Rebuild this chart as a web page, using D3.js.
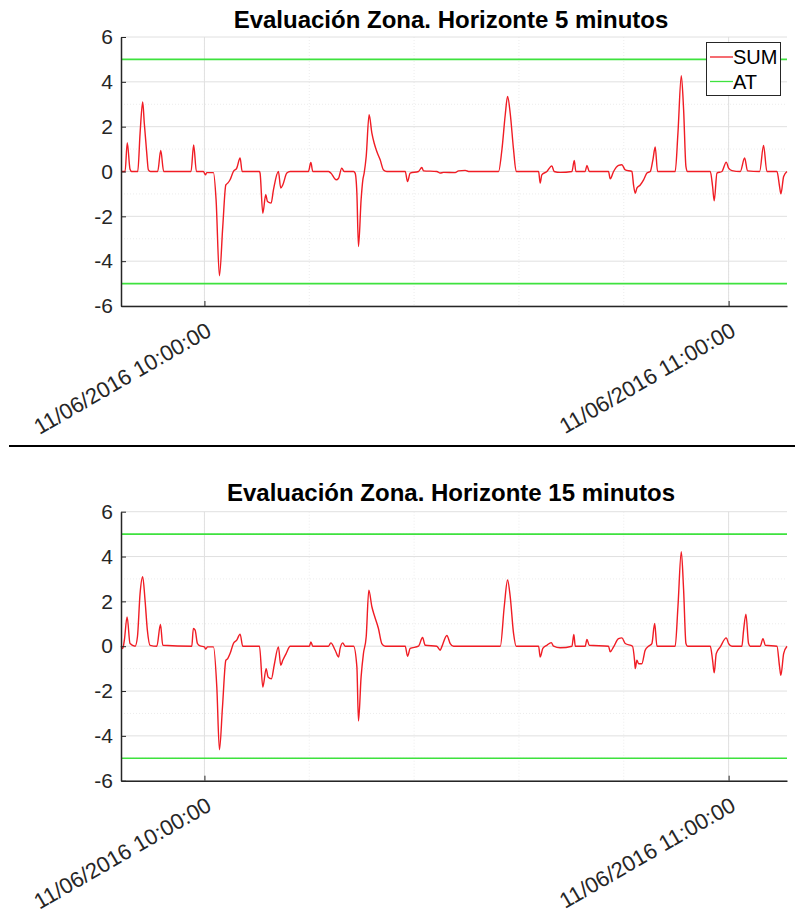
<!DOCTYPE html>
<html>
<head>
<meta charset="utf-8">
<script src="https://cdn.jsdelivr.net/npm/d3@7"></script>
<style>
  html, body { margin: 0; padding: 0; background: #fff; }
  svg { display: block; }
  text { font-family: "Liberation Sans", Arial, sans-serif; }
</style>
</head>
<body>
<svg id="chart" width="795" height="917"></svg>
<script>
// ---------- DATA ----------
const baseTime = new Date(2016, 5, 11, 10, 0, 0); // 11/06/2016 10:00:00
const domainSecs = [-573, 4001];                   // seconds relative to baseTime
const yTicks = [-6, -4, -2, 0, 2, 4, 6];
const atLevels = [5, -5];
const titles = ["Evaluación Zona. Horizonte 5 minutos", "Evaluación Zona. Horizonte 15 minutos"];
const legendLabels = ["SUM", "AT"];

// Horizon 5 minutes: seconds after 10:00:00 and SUM value
const secs5 = [-573,-545,-530,-511,-500,-458,-442,-424,-413,-396,-385,-370,-321,-300,-280,-92,-74,-55,-34,-7,7,16,62,80,103,126,147,160,176,199,222,245,259,378,382,401,421,433,458,474,508,524,538,566,589,714,731,744,852,868,905,921,943,960,1024,1035,1047,1058,1076,1088,1097,1111,1131,1150,1166,1184,1207,1230,1253,1379,1395,1413,1470,1493,1505,1596,1619,1642,1722,1745,1791,1814,2020,2043,2066,2082,2100,2123,2141,2295,2306,2317,2352,2386,2402,2443,2524,2540,2551,2615,2627,2643,2775,2787,2810,2844,2867,2890,2936,2947,2959,2970,2993,3016,3039,3062,3080,3096,3112,3233,3252,3275,3291,3307,3318,3474,3490,3501,3520,3554,3584,3600,3623,3680,3710,3730,3813,3840,3863,3932,3950,3959,3978,4001];
const sum5 = [0,0,1.29,0.1,0,0,1.7,3.1,2.15,0.81,0.07,0,0,0.94,0,0,1.18,0,0,0,-0.15,-0.05,-0.05,-1.26,-4.65,-2.45,-0.6,-0.52,-0.37,0,0.15,0.6,0,0,-0.07,-1.86,-1.04,-1.34,-1.41,-0.82,0,-0.74,-0.6,-0.07,0,0,0.4,0,0,-0.07,-0.37,-0.3,0.15,0,0,-0.07,-0.97,-3.35,-1.26,-0.37,-0.07,0.67,2.53,1.71,1.26,0.89,0.52,0.07,0,0,-0.45,-0.07,0,0.18,0.03,0,-0.07,-0.04,-0.05,0.03,0.05,0,0,0.97,2.53,3.35,2.6,0.97,0,0,-0.52,-0.15,0,0.25,0,-0.04,0,0.49,0,0,0.27,0,0,-0.33,0,0.27,0.3,0.07,0,-0.6,-0.97,-0.74,-0.6,-0.37,-0.07,0,0.52,1.09,0,0,1.71,4.27,2.75,0.22,0,0,-0.67,-1.31,-0.07,0,0.42,0.15,0.04,0,0.6,0.03,0,1.16,0,0,-0.67,-1.0,-0.22,0];

// Horizon 15 minutes
const secs15 = [-573,-561,-550,-531,-511,-476,-460,-442,-424,-408,-392,-373,-327,-302,-286,-87,-76,-64,-48,-30,0,9,21,62,85,103,124,147,160,176,199,222,245,263,378,401,424,437,460,479,508,524,538,561,589,721,731,744,852,868,898,921,932,950,966,1024,1047,1058,1076,1092,1111,1129,1150,1166,1195,1218,1241,1379,1395,1413,1470,1498,1516,1596,1619,1630,1665,1688,1711,2032,2059,2082,2100,2123,2141,2295,2306,2324,2352,2382,2398,2443,2524,2537,2547,2615,2627,2643,2775,2787,2810,2844,2867,2890,2940,2954,2959,2970,2982,3004,3027,3050,3073,3092,3108,3233,3252,3275,3291,3307,3318,3474,3490,3501,3515,3543,3584,3600,3623,3691,3703,3719,3737,3749,3817,3836,3852,3932,3950,3959,3978,4001];
const sum15 = [0,-0.1,0.27,1.31,0.12,0,0.42,2.35,3.1,2.06,0.72,0.04,0,0.97,0.04,0,0.79,0.72,0.12,0.01,-0.03,-0.13,-0.03,-0.03,-1.82,-4.62,-2.71,-0.63,-0.55,-0.33,0.12,0.27,0.54,0,0,-1.82,-1.0,-1.37,-1.45,-0.85,-0.03,-0.85,-0.63,-0.33,0,0,0.19,0,0,0.15,-0.18,-0.48,-0.1,0.15,0,0,-0.92,-3.34,-1.37,-0.33,0.42,2.5,1.76,1.39,0.79,0.12,0,0,-0.45,-0.1,0,0.39,0.04,0,-0.18,-0.03,0.48,0.12,0,0,1.76,2.95,2.21,0.57,0,0,-0.48,-0.1,0.04,0.16,0,-0.07,0,0.52,0,0,0.3,0.04,0,-0.25,-0.03,0.34,0.37,0.12,0,-0.63,-1.0,-0.63,-0.78,-0.78,-0.18,0,0.12,1.01,0,0,1.76,4.22,2.5,0.12,0,0,-0.63,-1.19,-0.33,-0.03,0.37,0.12,0,0,0.72,1.43,0.12,0,0,0.34,0.04,0,-0.92,-1.3,-0.33,0];

// ---------- DRAW ----------
const svg = d3.select("#chart");
const toDate = s => d3.timeSecond.offset(baseTime, s);
const fmt = d3.timeFormat("%d/%m/%Y %H:%M:%S");

const panels = [
  { top: 37, bottom: 306, titleY: 28, secs: secs5, vals: sum5, title: titles[0], legend: true },
  { top: 511.7, bottom: 780.7, titleY: 501, secs: secs15, vals: sum15, title: titles[1], legend: false }
];

const left = 121, right = 787;
const axisColor = "#262626";
const fontStack = "'Liberation Sans', Arial, sans-serif";

panels.forEach(p => {
  const x = d3.scaleTime().domain(domainSecs.map(toDate)).range([left, right]);
  const y = d3.scaleLinear().domain([-6, 6]).range([p.bottom, p.top]);
  const g = svg.append("g");

  // minor grid
  const minorX = d3.timeMinute.every(12).range(x.domain()[0], x.domain()[1]);
  g.append("g").selectAll("line").data(minorX).join("line")
    .attr("x1", d => x(d)).attr("x2", d => x(d))
    .attr("y1", p.top).attr("y2", p.bottom)
    .attr("stroke", "#ececec").attr("stroke-width", 1).attr("stroke-dasharray", "1,2");
  const minorY = d3.range(-5, 6, 1).filter(v => v % 2 !== 0);
  g.append("g").selectAll("line").data(minorY).join("line")
    .attr("x1", left).attr("x2", right)
    .attr("y1", d => y(d)).attr("y2", d => y(d))
    .attr("stroke", "#ececec").attr("stroke-width", 1).attr("stroke-dasharray", "1,2");

  // major grid
  const hourTicks = x.ticks(d3.timeHour.every(1));
  g.append("g").selectAll("line").data(hourTicks).join("line")
    .attr("x1", d => x(d)).attr("x2", d => x(d))
    .attr("y1", p.top).attr("y2", p.bottom)
    .attr("stroke", "#e0e0e0").attr("stroke-width", 1);
  g.append("g").selectAll("line").data(yTicks).join("line")
    .attr("x1", left).attr("x2", right)
    .attr("y1", d => y(d)).attr("y2", d => y(d))
    .attr("stroke", "#e0e0e0").attr("stroke-width", 1);

  // AT lines
  g.append("g").selectAll("line").data(atLevels).join("line")
    .attr("x1", left).attr("x2", right)
    .attr("y1", d => y(d)).attr("y2", d => y(d))
    .attr("stroke", "#3ee23e").attr("stroke-width", 1.6);

  // SUM line
  const pts = p.secs.map((s, i) => [toDate(s), p.vals[i]]);
  g.append("path").datum(pts)
    .attr("fill", "none").attr("stroke", "#f01c24").attr("stroke-width", 1.4)
    .attr("stroke-linejoin", "round")
    .attr("d", d3.line().curve(d3.curveMonotoneX).x(d => x(d[0])).y(d => y(d[1])));

  // Y axis
  const yAxis = d3.axisLeft(y).tickValues(yTicks).tickSizeInner(-5).tickSizeOuter(0).tickPadding(8)
    .tickFormat(d => d < 0 ? "-" + Math.abs(d) : String(d));
  const ya = g.append("g").attr("transform", `translate(${left},0)`).call(yAxis);
  ya.select(".domain").attr("stroke", axisColor).attr("stroke-width", 1.5);
  ya.selectAll(".tick line").attr("stroke", axisColor);
  ya.selectAll(".tick text").attr("fill", axisColor).style("font-size", "21px")
    .style("font-family", fontStack);

  // X axis
  const xAxis = d3.axisBottom(x).ticks(d3.timeHour.every(1)).tickSizeInner(-5).tickSizeOuter(0).tickFormat(fmt);
  const xa = g.append("g").attr("transform", `translate(0,${p.bottom})`).call(xAxis);
  xa.select(".domain").attr("stroke", axisColor).attr("stroke-width", 1.5);
  xa.selectAll(".tick line").attr("stroke", axisColor);
  xa.selectAll(".tick text")
    .attr("fill", axisColor).style("font-size", "22px")
    .style("font-family", fontStack)
    .attr("text-anchor", "end").attr("dy", null).attr("y", null)
    .attr("transform", "translate(8,29) rotate(-30)");

  // Title
  svg.append("text").attr("x", 451).attr("y", p.titleY)
    .attr("text-anchor", "middle").attr("font-weight", "bold")
    .attr("font-size", "24px").attr("fill", "#000").text(p.title);

  // Legend
  if (p.legend) {
    const lg = svg.append("g");
    lg.append("rect").attr("x", 706.5).attr("y", 42.5).attr("width", 74).attr("height", 53)
      .attr("fill", "#fff").attr("stroke", "#262626").attr("stroke-width", 1);
    const colors = ["#f01c24", "#3ee23e"];
    legendLabels.forEach((lab, i) => {
      const cy = 57 + i * 24.5;
      lg.append("line").attr("x1", 710).attr("x2", 733).attr("y1", cy).attr("y2", cy)
        .attr("stroke", colors[i]).attr("stroke-width", 1.3);
      lg.append("text").attr("x", 733).attr("y", cy + 7).attr("font-size", "20px")
        .attr("fill", "#000").text(lab);
    });
  }
});

// separator line between the two figures
svg.append("line").attr("x1", 9).attr("x2", 795).attr("y1", 446).attr("y2", 446)
  .attr("stroke", "#000").attr("stroke-width", 2);
</script>
</body>
</html>
